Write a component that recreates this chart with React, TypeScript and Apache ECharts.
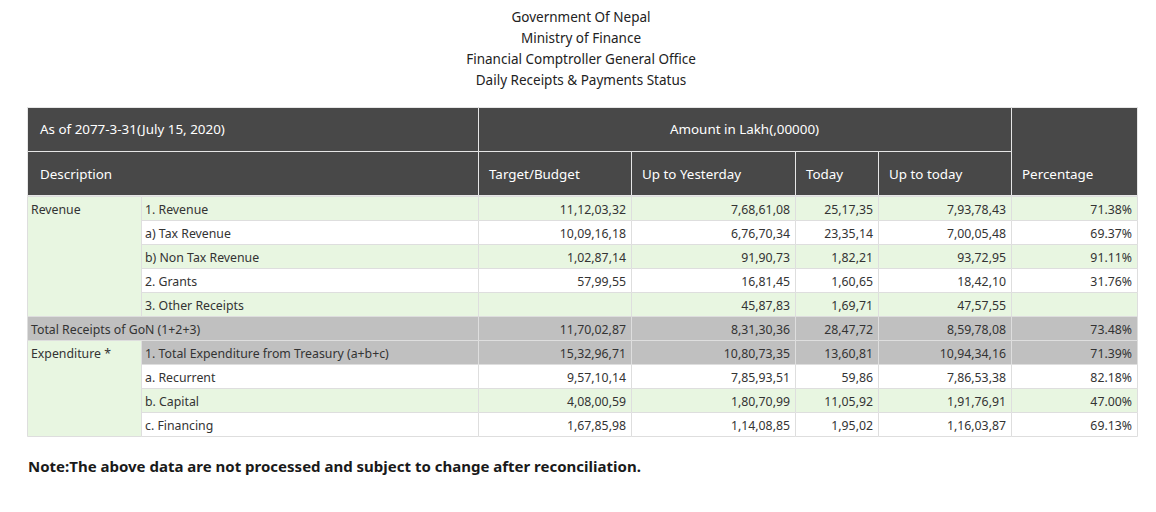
import React, { useEffect, useRef } from "react";
import * as echarts from "echarts";

const titles = [
  "Government Of Nepal",
  "Ministry of Finance",
  "Financial Comptroller General Office",
  "Daily Receipts & Payments Status",
];
const headerDate = "As of 2077-3-31(July 15, 2020)";
const headerAmount = "Amount in Lakh(,00000)";
const columnHeaders = ["Description", "Target/Budget", "Up to Yesterday", "Today", "Up to today", "Percentage"];
const groupLabels = ["Revenue", "Expenditure *"];
const groupStarts = [0, 6];
const groupSpans = [5, 4];
const items = [
  "1. Revenue",
  "a) Tax Revenue",
  "b) Non Tax Revenue",
  "2. Grants",
  "3. Other Receipts",
  "Total Receipts of GoN (1+2+3)",
  "1. Total Expenditure from Treasury (a+b+c)",
  "a. Recurrent",
  "b. Capital",
  "c. Financing",
];
const targetBudget = ["11,12,03,32", "10,09,16,18", "1,02,87,14", "57,99,55", "", "11,70,02,87", "15,32,96,71", "9,57,10,14", "4,08,00,59", "1,67,85,98"];
const upToYesterday = ["7,68,61,08", "6,76,70,34", "91,90,73", "16,81,45", "45,87,83", "8,31,30,36", "10,80,73,35", "7,85,93,51", "1,80,70,99", "1,14,08,85"];
const todayValues = ["25,17,35", "23,35,14", "1,82,21", "1,60,65", "1,69,71", "28,47,72", "13,60,81", "59,86", "11,05,92", "1,95,02"];
const upToToday = ["7,93,78,43", "7,00,05,48", "93,72,95", "18,42,10", "47,57,55", "8,59,78,08", "10,94,34,16", "7,86,53,38", "1,91,76,91", "1,16,03,87"];
const percentage = ["71.38%", "69.37%", "91.11%", "31.76%", "", "73.48%", "71.39%", "82.18%", "47.00%", "69.13%"];
const rowKinds = ["green", "white", "green", "white", "green", "gray", "gray", "white", "green", "white"];
const fullWidthRows = [5];
const note = "Note:The above data are not processed and subject to change after reconciliation.";

const FONT = "'Noto Sans', 'Open Sans', sans-serif";
const colX = [27, 141, 478, 631, 795, 878, 1011, 1137];
const headTop = 107;
const headMid = 151;
const headBottom = 195;
const rowTop = 196;
const rowH = 24;
const fills: Record<string, string> = { green: "#e8f6e1", white: "#ffffff", gray: "#c0c0c0" };
const border = "#dedede";
const headBg = "#484848";

function buildGraphic() {
  const els: any[] = [];
  const rect = (x1: number, y1: number, x2: number, y2: number, fill: string, stroke = border) =>
    els.push({ type: "rect", shape: { x: x1 + 0.5, y: y1 + 0.5, width: x2 - x1, height: y2 - y1 }, style: { fill, stroke, lineWidth: 1 } });
  const text = (t: string, x: number, y: number, align: string, opts: any = {}) =>
    els.push({
      type: "text",
      x,
      y,
      style: { text: t, fill: opts.color || "#333", font: `${opts.weight || "normal"} ${opts.size || 12.3}px ${FONT}`, align, verticalAlign: "middle" },
    });

  titles.forEach((t, i) => text(t, 581, 17 + i * 21, "center", { size: 13.5, color: "#222" }));

  // header
  const hs = "#e6e6e6";
  rect(colX[0], headTop, colX[2], headMid, headBg, hs);
  rect(colX[2], headTop, colX[6], headMid, headBg, hs);
  rect(colX[6], headTop, colX[7], headBottom, headBg, hs);
  rect(colX[0], headMid, colX[2], headBottom, headBg, hs);
  for (let c = 2; c < 6; c++) rect(colX[c], headMid, colX[c + 1], headBottom, headBg, hs);
  text(headerDate, colX[0] + 13, (headTop + headMid) / 2, "left", { color: "#fff", size: 13.4 });
  text(headerAmount, (colX[2] + colX[6]) / 2, (headTop + headMid) / 2, "center", { color: "#fff", size: 13.4 });
  text(columnHeaders[0], colX[0] + 13, (headMid + headBottom) / 2 + 1, "left", { color: "#fff", size: 13.4 });
  for (let c = 1; c < 6; c++) text(columnHeaders[c], colX[c + 1] + 11, (headMid + headBottom) / 2 + 1, "left", { color: "#fff", size: 13.4 });

  // body
  const valueCols = [targetBudget, upToYesterday, todayValues, upToToday, percentage];
  items.forEach((label, r) => {
    const y1 = rowTop + r * rowH;
    const y2 = y1 + rowH;
    const fill = fills[rowKinds[r]];
    const full = fullWidthRows.includes(r);
    if (full) {
      rect(colX[0], y1, colX[2], y2, fill);
      text(label, colX[0] + 4, y1 + rowH / 2 + 1, "left");
    } else {
      rect(colX[1], y1, colX[2], y2, fill);
      text(label, colX[1] + 4, y1 + rowH / 2 + 1, "left");
    }
    valueCols.forEach((vals, k) => {
      rect(colX[k + 2], y1, colX[k + 3], y2, fill);
      if (vals[r]) text(vals[r], colX[k + 3] - 5, y1 + rowH / 2 + 1, "right");
    });
  });
  groupLabels.forEach((g, i) => {
    const y1 = rowTop + groupStarts[i] * rowH;
    rect(colX[0], y1, colX[1], y1 + groupSpans[i] * rowH, fills.green);
    text(g, colX[0] + 4, y1 + rowH / 2 + 1, "left");
  });

  text(note, 28, 466, "left", { weight: "bold", size: 15, color: "#1a1a1a" });
  return els;
}

export default function App() {
  const ref = useRef<HTMLDivElement>(null);
  useEffect(() => {
    if (!ref.current) return;
    const chart = echarts.init(ref.current, undefined, { renderer: "svg" });
    chart.setOption({ animation: false, backgroundColor: "#ffffff", graphic: { elements: buildGraphic() } });
    return () => chart.dispose();
  }, []);
  return <div ref={ref} style={{ position: "fixed", left: 0, top: 0, width: 1156, height: 512 }} />;
}
